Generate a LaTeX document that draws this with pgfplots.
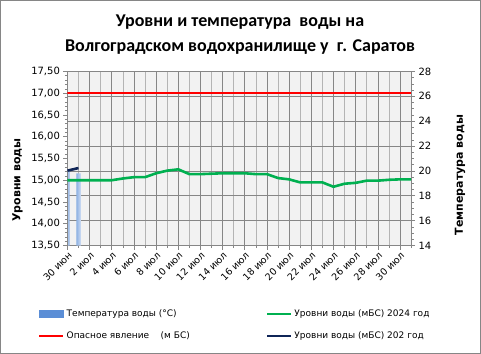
\documentclass[border=0pt]{standalone}
\usepackage{pgfplots}
\pgfplotsset{compat=1.18}
\usepackage{fontspec}
\setmainfont{DejaVu Sans}
\newfontfamily\titlefont{Carlito}
\definecolor{plotbg}{HTML}{F2F2F2}
\definecolor{gridmaj}{HTML}{868686}
\definecolor{gridmin}{HTML}{B4B4B4}
\definecolor{lvlgreen}{HTML}{00B050}
\definecolor{lvlred}{HTML}{FF0000}
\definecolor{lvlnavy}{HTML}{0F2557}
\definecolor{barblue}{HTML}{5B8ED6}
\begin{document}
\begin{tikzpicture}
\draw[gridmaj, line width=0.8pt] (0.5pt,0.5pt) rectangle (480.5pt,353.5pt);
\node[font=\titlefont\bfseries\fontsize{18}{24}\selectfont, align=center] at (240pt,319.3pt)
  {Уровни и температура\ \ воды на\\Волгоградском водохранилище у\ \ г. Саратов};
% right axis: temperature, background and grid
\begin{axis}[
  at={(67.5pt,108.5pt)}, anchor=south west, scale only axis,
  width=343.5pt, height=174pt,
  xmin=0, xmax=31, ymin=14, ymax=28,
  axis background/.style={fill=plotbg},
  axis x line*=bottom, axis y line*=right,
  axis line style={gridmaj},
  xtick={0,2,...,30}, minor xtick={1,3,...,31},
  xticklabels={30 июн,2 июл,4 июл,6 июл,8 июл,10 июл,12 июл,14 июл,16 июл,18 июл,20 июл,22 июл,24 июл,26 июл,28 июл,30 июл},
  xticklabel style={rotate=45, anchor=north east, font=\fontsize{9.5}{11}\selectfont, inner sep=1pt},
  ytick={14,16,...,28}, minor y tick num=3,
  xmajorgrids=true, xminorgrids=true, ymajorgrids=true,
  major grid style={gridmaj, line width=0.6pt},
  minor grid style={gridmin, line width=0.6pt},
  tick align=outside, major tick length=4pt, minor tick length=2.5pt,
  every tick/.style={gridmaj, line width=0.6pt},
  yticklabel style={font=\fontsize{10}{12}\selectfont, /pgf/number format/assume math mode=true},
  ylabel={Температура воды},
  every axis y label/.style={at={(axis description cs:1.1427,0.405)}, rotate=90, anchor=center, font=\bfseries\fontsize{11}{13}\selectfont},
]
\addplot[ybar, bar width=4.5pt, draw=none, left color=barblue!30, right color=barblue!30, middle color=barblue] coordinates {(0,20.0) (1,19.8)};
\end{axis}
% left axis: levels
\begin{axis}[
  at={(67.5pt,108.5pt)}, anchor=south west, scale only axis,
  width=343.5pt, height=174pt,
  xmin=0, xmax=31, ymin=13.5, ymax=17.5,
  axis x line=none, axis y line*=left,
  axis line style={gridmaj},
  ytick={13.5,14,...,17.5}, minor y tick num=4,
  tick align=outside, major tick length=4pt, minor tick length=2.5pt,
  every tick/.style={gridmaj, line width=0.6pt},
  yticklabel style={font=\fontsize{10}{12}\selectfont, /pgf/number format/.cd, fixed, fixed zerofill, precision=2, use comma, assume math mode=true},
  ylabel={Уровни воды},
  every axis y label/.style={at={(axis description cs:-0.1456,0.376)}, rotate=90, anchor=center, font=\bfseries\fontsize{11}{13}\selectfont},
  legend columns=2,
  legend cell align=left,
  legend style={at={(axis description cs:-0.0859,-0.356)}, anchor=north west, draw=none, fill=none,
    font=\fontsize{9}{11}\selectfont, row sep=10pt, inner sep=0pt,
    /tikz/every even column/.append style={column sep=74pt}},
  legend image code/.code={\draw[#1] (0pt,0pt) -- (24pt,0pt);},
]
\addlegendimage{legend image code/.code={\fill[barblue] (0pt,-3.5pt) rectangle (24pt,3.5pt);}}
\addlegendentry{Температура воды (°C)}
\addplot[lvlgreen, line width=2.6pt] coordinates {
(0,15.00) (1,15.00) (2,15.00) (3,15.00) (4,15.00) (5,15.04) (6,15.07) (7,15.07)
(8,15.16) (9,15.22) (10,15.25) (11,15.14) (12,15.14) (13,15.15) (14,15.16) (15,15.16)
(16,15.16) (17,15.14) (18,15.14) (19,15.05) (20,15.02) (21,14.95) (22,14.95) (23,14.95)
(24,14.85) (25,14.92) (26,14.94) (27,14.99) (28,14.99) (29,15.01) (30,15.02) (31,15.02)};
\addlegendentry{Уровни воды (мБС)\ 2024 год}
\addplot[lvlred, line width=2.6pt] coordinates {(0,17.00) (31,17.00)};
\addlegendentry{Опасное явление\ \ \ \ (м БС)}
\addplot[lvlnavy, line width=2.6pt] coordinates {(0,15.22) (1,15.28)};
\addlegendentry{Уровни воды (мБС)\ 202 год}
\end{axis}
\end{tikzpicture}
\end{document}
